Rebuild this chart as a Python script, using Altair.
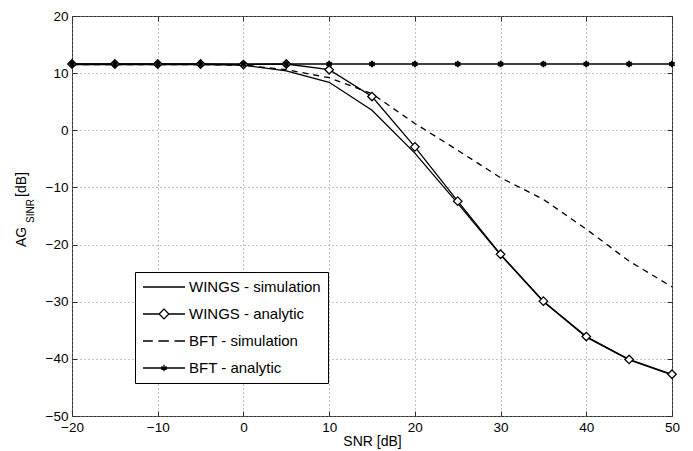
import altair as alt
import pandas as pd

snr = [-20, -15, -10, -5, 0, 5, 10, 15, 20, 25, 30, 35, 40, 45, 50]
wings_sim = [11.5, 11.5, 11.5, 11.5, 11.4, 10.4, 8.4, 3.5, -4.0, -12.8, -21.8, -30.0, -36.2, -40.2, -42.8]
wings_ana = [11.6, 11.6, 11.6, 11.6, 11.5, 11.6, 10.6, 5.9, -2.9, -12.4, -21.7, -29.9, -36.1, -40.1, -42.7]
bft_sim = [11.5, 11.5, 11.5, 11.5, 11.4, 10.6, 9.2, 6.4, 1.2, -3.5, -8.3, -12.1, -17.3, -22.9, -27.4]
bft_ana = [11.6, 11.6, 11.6, 11.6, 11.6, 11.6, 11.6, 11.6, 11.6, 11.6, 11.6, 11.6, 11.6, 11.6, 11.6]

series_names = ["WINGS - simulation", "WINGS - analytic", "BFT - simulation", "BFT - analytic"]
x_ticks = [-20, -10, 0, 10, 20, 30, 40, 50]
y_ticks = [-50, -40, -30, -20, -10, 0, 10, 20]

rows = []
for name, vals in zip(series_names, [wings_sim, wings_ana, bft_sim, bft_ana]):
    for s, v in zip(snr, vals):
        rows.append({"snr": s, "ag": v, "series": name})
df = pd.DataFrame(rows)

FONT = "Liberation Sans"
FRAME = "#303030"
xs = alt.Scale(domain=[-20, 50], nice=False)
ys = alt.Scale(domain=[-50, 20], nice=False)

x_enc = alt.X("snr:Q", scale=xs,
              axis=alt.Axis(values=x_ticks, title="SNR [dB]", grid=True, labelFlush=False,
                            ticks=False, domain=False))
y_enc = alt.Y("ag:Q", scale=ys,
              axis=alt.Axis(values=y_ticks, title=None, grid=True, labelFlush=False,
                            ticks=False, domain=False))


def tick_axis(vals, orient):
    return alt.Axis(values=vals, orient=orient, offset=-5, tickSize=5, ticks=True,
                    tickColor=FRAME, tickWidth=1, labels=False, grid=False,
                    domain=False, title=None)


base = alt.Chart(df)

solid_lines = base.transform_filter(alt.datum.series != "BFT - simulation").mark_line(
    color="black", strokeWidth=1.3
).encode(x=x_enc, y=y_enc, detail="series:N")

dashed_line = base.transform_filter(alt.datum.series == "BFT - simulation").mark_line(
    color="black", strokeWidth=1.3, strokeDash=[6, 5]
).encode(x=alt.X("snr:Q", axis=None), y=alt.Y("ag:Q", axis=None))

diamonds = base.transform_filter(alt.datum.series == "WINGS - analytic").mark_point(
    shape="diamond", size=72, filled=False, fill="white", fillOpacity=1,
    stroke="black", strokeWidth=1.3, opacity=1
).encode(x=alt.X("snr:Q", axis=None), y=alt.Y("ag:Q", axis=None))

star_path = "M0,-1L0,1M-0.87,-0.5L0.87,0.5M-0.87,0.5L0.87,-0.5"
stars = base.transform_filter(alt.datum.series == "BFT - analytic").mark_point(
    shape=star_path, size=40, filled=False, stroke="black", strokeWidth=2, opacity=1
).encode(x=alt.X("snr:Q", axis=None), y=alt.Y("ag:Q", axis=None))

# inward tick marks on all four sides (axes pulled 5px into the plot)
ticks_bl = base.transform_filter(alt.datum.snr > 1000).mark_point().encode(
    x=alt.X("snr:Q", axis=tick_axis(x_ticks, "bottom")),
    y=alt.Y("ag:Q", axis=tick_axis(y_ticks, "left")),
)
ticks_tr = base.transform_filter(alt.datum.snr > 1000).mark_point().encode(
    x=alt.X("snr:Q", axis=tick_axis(x_ticks, "top")),
    y=alt.Y("ag:Q", axis=tick_axis(y_ticks, "right")),
)

# legend symbols: line (42px wide) with marker, drawn as custom paths
leg_solid = "M-1,0L5,0"
leg_diam = "M-1,0L1.3,0M1.3,0L2,-0.7L2.7,0L2,0.7ZM2.7,0L5,0"
leg_dash = "M-1,0L0.4,0M1.2,0L2.7,0M3.5,0L5,0"
leg_star = "M-1,0L5,0M2,-0.45L2,0.45M1.62,-0.22L2.38,0.22M1.62,0.22L2.38,-0.22"

legend_layer = base.transform_filter(alt.datum.snr > 1000).mark_point(filled=False).encode(
    x=alt.X("snr:Q", axis=None), y=alt.Y("ag:Q", axis=None),
    shape=alt.Shape("series:N",
                    scale=alt.Scale(domain=series_names,
                                    range=[leg_solid, leg_diam, leg_dash, leg_star]),
                    legend=alt.Legend(
                        title=None, orient="none", legendX=63, legendY=256,
                        symbolSize=196, symbolStrokeColor="black", symbolFillColor="white",
                        symbolStrokeWidth=1.3, symbolOpacity=1,
                        labelFont=FONT, labelFontSize=15, labelColor="black",
                        labelOffset=31, rowPadding=11,
                        fillColor="white", strokeColor="black", padding=7,
                    )),
)

t_ag = alt.Chart(pd.DataFrame({"t": ["AG"]})).mark_text(
    angle=270, align="left", baseline="alphabetic", font=FONT, fontSize=14, color="black"
).encode(x=alt.value(-46), y=alt.value(231), text="t:N")
t_sinr = alt.Chart(pd.DataFrame({"t": ["SINR"]})).mark_text(
    angle=270, align="left", baseline="alphabetic", font=FONT, fontSize=10, color="black"
).encode(x=alt.value(-38), y=alt.value(207), text="t:N")
t_db = alt.Chart(pd.DataFrame({"t": ["[dB]"]})).mark_text(
    angle=270, align="left", baseline="alphabetic", font=FONT, fontSize=14, color="black"
).encode(x=alt.value(-46), y=alt.value(181), text="t:N")

chart = alt.layer(solid_lines, dashed_line, diamonds, stars, ticks_bl, ticks_tr,
                  legend_layer, t_ag, t_sinr, t_db).resolve_axis(
    x="independent", y="independent"
).properties(
    width=600, height=400,
    autosize=alt.AutoSizeParams(type="none"),
    padding={"left": 64, "top": 8, "right": 13, "bottom": 33},
).configure_view(
    stroke=FRAME, strokeWidth=1
).configure_axis(
    gridColor="#888888", gridDash=[1, 3], gridWidth=1, gridOpacity=1,
    labelFont=FONT, labelFontSize=13.5, labelColor="black", labelPadding=4,
    titleFont=FONT, titleFontSize=14, titleColor="black", titleFontWeight="normal",
    titlePadding=1,
)

chart.save("out.html", embed_options={"renderer": "svg", "actions": False})
